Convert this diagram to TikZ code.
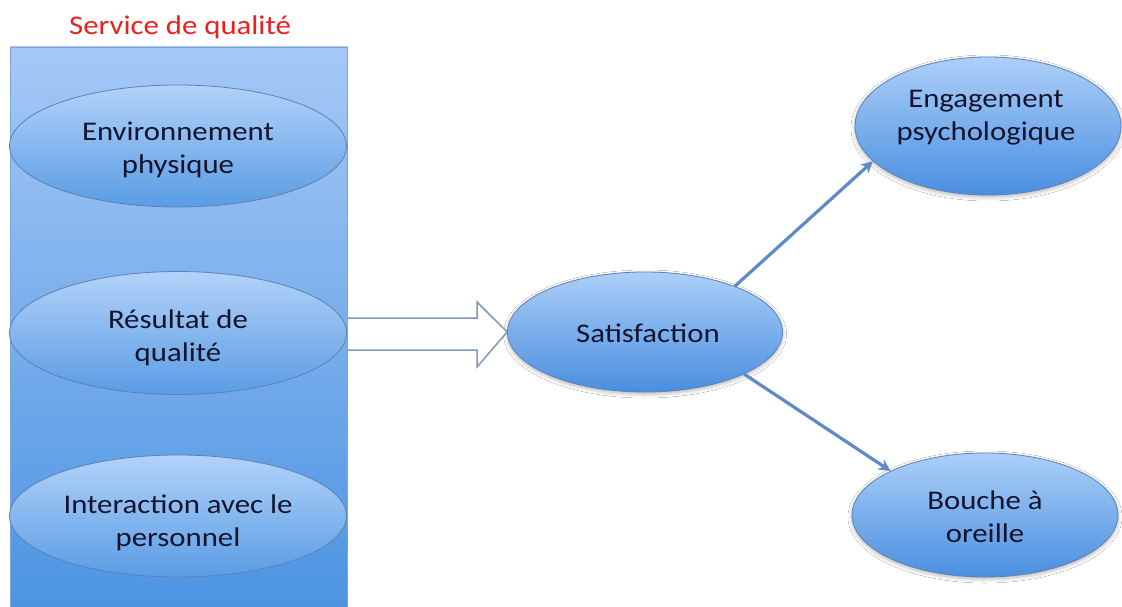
\documentclass[tikz,border=0pt]{standalone}
\usepackage{fontspec}
\setmainfont{Carlito}[FakeStretch=1.14]
\usetikzlibrary{shapes.geometric,arrows.meta,shadows.blur}
\definecolor{rtop}{HTML}{A5C8F6}
\definecolor{rbot}{HTML}{4C94E2}
\definecolor{rline}{HTML}{7FA3D3}
\definecolor{etop}{HTML}{B2D2F9}
\definecolor{ebot}{HTML}{5A9CE4}
\definecolor{eline}{HTML}{5F80B2}
\definecolor{otop}{HTML}{ACCFF8}
\definecolor{obot}{HTML}{4A8FE0}
\definecolor{txtc}{HTML}{14142E}
\definecolor{ttlred}{HTML}{E8201F}
\definecolor{barrow}{HTML}{8097B6}
\definecolor{conc}{HTML}{5E8BC6}
\tikzset{
  rectbox/.style={rectangle, draw=rline, line width=0.8pt, top color=rtop, bottom color=rbot, inner sep=0pt},
  inell/.style={ellipse, draw=eline, line width=0.8pt, top color=etop, bottom color=ebot, inner sep=0pt},
  outell/.style={ellipse, draw=eline, line width=0.8pt, top color=otop, bottom color=obot, inner sep=0pt,
    blur shadow={shadow blur steps=6, shadow xshift=0pt, shadow yshift=-2pt, shadow opacity=30, shadow blur radius=4pt}},
  lbl/.style={font=\fontsize{27}{33}\selectfont, text=txtc, align=center, inner sep=0pt},
  conn/.style={draw=conc, line width=3.2pt, -{Stealth[length=12pt,width=12pt,inset=4pt]}},
  blockarrow/.style={draw=barrow, line width=1.5pt, fill=white, line join=miter}
}
\begin{document}
\begin{tikzpicture}[x=1pt,y=-1pt]
\useasboundingbox (0,0) rectangle (1122,607);
\fill[white] (0,0) rectangle (1122,607);
% left panel
\node[rectbox, minimum width=337pt, minimum height=562pt] (svc) at (179,328) {};
\node[font=\fontsize{27}{31}\selectfont, text=ttlred, anchor=base, inner sep=0pt] (ttl) at (180,35) {Service de qualité};
% ellipses in the panel
\node[inell, minimum width=337pt, minimum height=122pt] (e1) at (178,146) {};
\node[lbl] (t1) at (178,150) {Environnement\\physique};
\node[inell, minimum width=337pt, minimum height=123pt] (e2) at (178,333) {};
\node[lbl] (t2) at (178,338) {Résultat de\\qualité};
\node[inell, minimum width=337pt, minimum height=122pt] (e3) at (178,516) {};
\node[lbl] (t3) at (178,523) {Interaction avec le\\personnel};
% right ellipses
\node[outell, minimum width=275pt, minimum height=120pt] (sat) at (645,332) {};
\node[lbl] (ts) at (648,333) {Satisfaction};
\node[outell, minimum width=266pt, minimum height=138pt] (eng) at (988,126) {};
\node[lbl] (te) at (986,118) {Engagement\\psychologique};
\node[outell, minimum width=266pt, minimum height=124pt] (bou) at (985,515) {};
\node[lbl] (tb) at (985,517) {Bouche à\\oreille};
% block arrow
\draw[blockarrow] (348,318) -- (477,318) -- (477,302) -- (sat.west) -- (477,367) -- (477,350) -- (348,350);
% connectors
\draw[conn] (sat.27) -- (eng.197);
\draw[conn] (sat.-23) -- (bou.155);
\end{tikzpicture}
\end{document}
